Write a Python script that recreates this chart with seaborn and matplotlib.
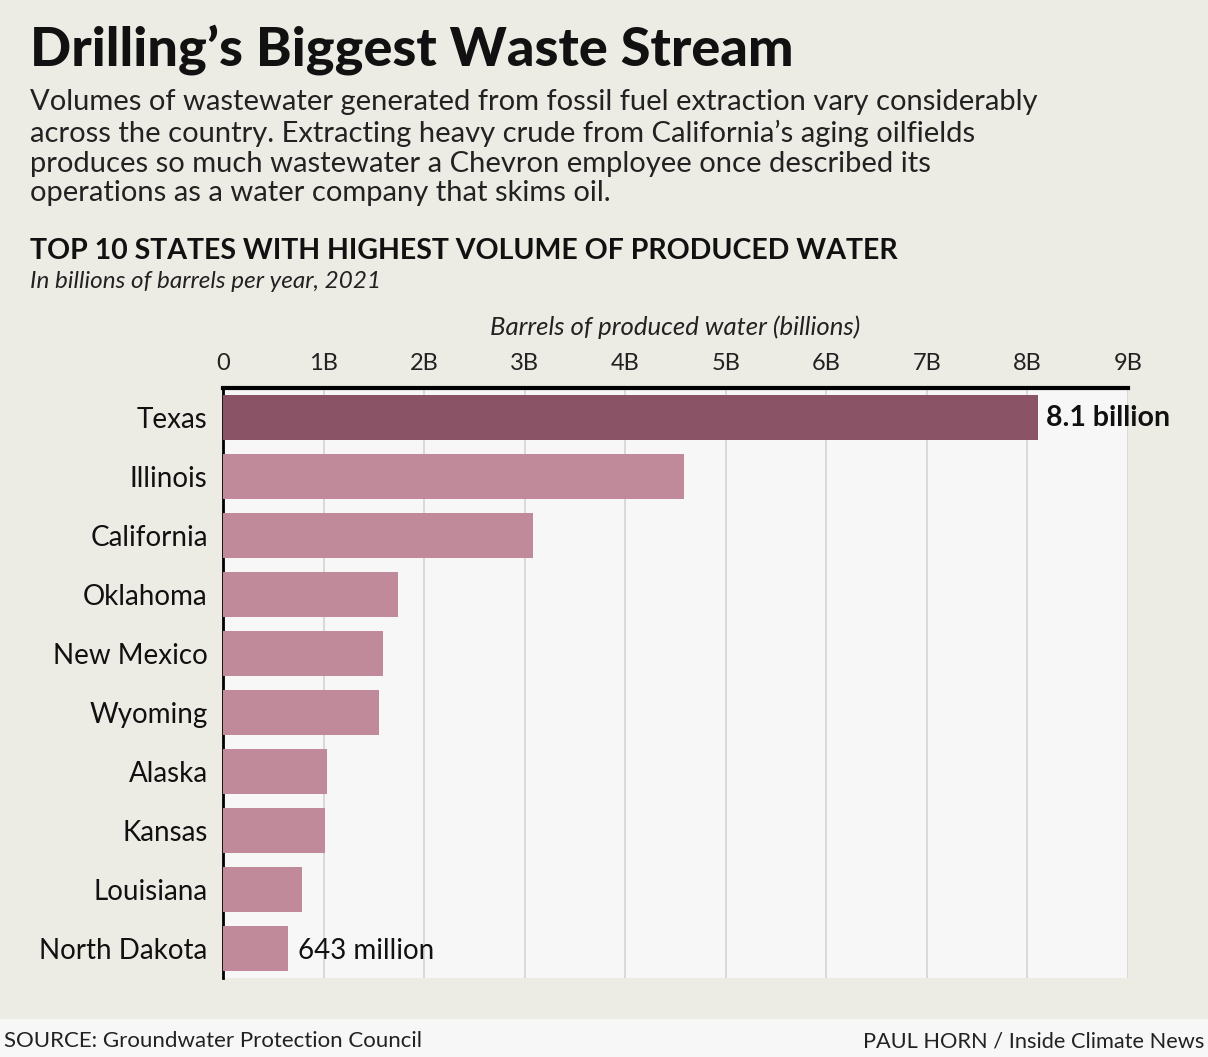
import pandas as pd
import seaborn as sns
from matplotlib import pyplot as plt
from matplotlib.patches import Rectangle

states = ["Texas", "Illinois", "California", "Oklahoma", "New Mexico",
          "Wyoming", "Alaska", "Kansas", "Louisiana", "North Dakota"]
volumes = [8.1, 4.58, 3.08, 1.74, 1.59, 1.55, 1.03, 1.01, 0.79, 0.643]
tick_values = [0, 1, 2, 3, 4, 5, 6, 7, 8, 9]
tick_labels = ["0", "1B", "2B", "3B", "4B", "5B", "6B", "7B", "8B", "9B"]

W, H = 1208, 1057
BG = "#edece4"
PANEL = "#f7f7f7"
FONT = "Lato"

df = pd.DataFrame({"State": states, "Volume": volumes})

sns.set_theme(style="white")
plt.rcParams["font.family"] = [FONT, "DejaVu Sans"]

fig = plt.figure(figsize=(W / 100, H / 100), dpi=100, facecolor=BG)

# footer strip
fig.patches.append(Rectangle((0, 0), 1, 38 / H, transform=fig.transFigure,
                             facecolor=PANEL, edgecolor="none", zorder=0))


def px(x, y):
    return x / W, 1 - y / H


ax = fig.add_axes([223 / W, 1 - 978 / H, (1128 - 223) / W, (978 - 388) / H])
ax.set_facecolor(PANEL)

colors = ["#8a5366"] + ["#c08a9b"] * (len(states) - 1)
sns.barplot(data=df, x="Volume", y="State", hue="State", palette=colors,
            saturation=1, legend=False, orient="h", width=0.75,
            linewidth=0, ax=ax, zorder=3)

ax.set_xlim(0, 9)
ax.set_ylim(len(states) - 0.5, -0.5)
ax.set_xticks(tick_values)
ax.set_xticklabels(tick_labels)
ax.xaxis.tick_top()
ax.xaxis.set_label_position("top")
ax.set_xlabel("Barrels of produced water (billions)", fontsize=18.5,
              fontstyle="italic", color="#222222", labelpad=13)
ax.set_ylabel("")
ax.grid(axis="x", color="#d4d4d4", linewidth=1.2, zorder=0)
ax.tick_params(axis="x", length=0, labelsize=17, pad=10, colors="#222222")
ax.tick_params(axis="y", length=0, labelsize=20, pad=11, colors="#111111")

for side in ["right", "bottom"]:
    ax.spines[side].set_visible(False)
ax.spines["top"].set_linewidth(3)
ax.spines["top"].set_color("black")
ax.spines["left"].set_linewidth(2)
ax.spines["left"].set_color("black")

ax.text(volumes[0] + 0.08, 0, "8.1 billion", va="center", ha="left",
        fontsize=20.5, fontweight="bold", color="#111111", zorder=4)
ax.text(volumes[-1] + 0.1, 9.05, "643 million", va="center", ha="left",
        fontsize=20, color="#111111", zorder=4)

# titles
fig.text(*px(30, 50), "Drilling\u2019s Biggest Waste Stream", fontsize=39,
         fontweight="black", color="#111111", va="center", ha="left")
fig.text(*px(30, 89),
         "Volumes of wastewater generated from fossil fuel extraction vary considerably\n"
         "across the country. Extracting heavy crude from California\u2019s aging oilfields\n"
         "produces so much wastewater a Chevron employee once described its\n"
         "operations as a water company that skims oil.",
         fontsize=21, color="#222222", va="top", ha="left", linespacing=1.19)
fig.text(*px(30, 251), "TOP 10 STATES WITH HIGHEST VOLUME OF PRODUCED WATER",
         fontsize=20.5, fontweight="bold", color="#111111", va="center", ha="left")
fig.text(*px(30, 281), "In billions of barrels per year, 2021", fontsize=17.5,
         fontstyle="italic", color="#222222", va="center", ha="left")

fig.text(*px(4, 1041), "SOURCE: Groundwater Protection Council", fontsize=16,
         color="#222222", va="center", ha="left")
fig.text(*px(1204, 1041), "PAUL HORN / Inside Climate News", fontsize=15.7,
         color="#222222", va="center", ha="right")

fig.savefig("out.png", dpi=100, facecolor=BG)
